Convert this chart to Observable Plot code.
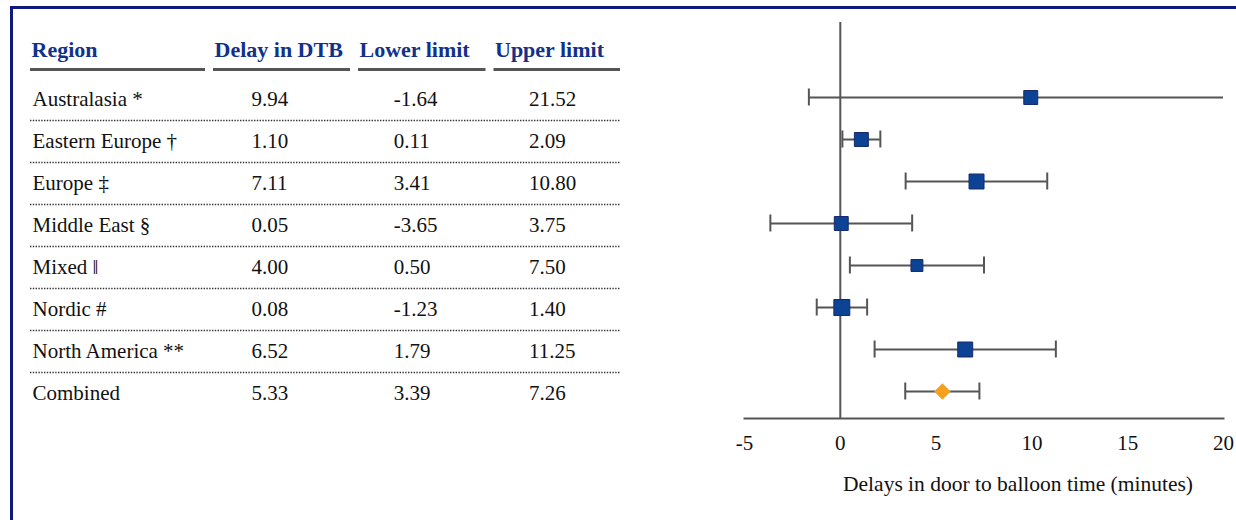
<!DOCTYPE html>
<html>
<head>
<meta charset="utf-8">
<script src="https://cdn.jsdelivr.net/npm/d3@7"></script>
<script src="https://cdn.jsdelivr.net/npm/@observablehq/plot@0.6"></script>
<style>
  html, body { margin: 0; padding: 0; background: #ffffff; }
  #wrap { position: relative; width: 1236px; height: 520px; overflow: hidden; background: #fff;
          font-family: 'Liberation Serif', 'Times New Roman', serif; }
  #border { position: absolute; left: 10px; top: 6px; width: 2000px; height: 2000px;
            border-left: 3px solid #101a7c; border-top: 3px solid #101a7c; }
  #table { position: absolute; left: 0; top: 0; }
  #forest { position: absolute; left: 660px; top: 0; }
  svg, svg text { font-family: 'Liberation Serif', 'Times New Roman', serif !important; }
</style>
</head>
<body>
<div id="wrap">
  <div id="border"></div>
  <div id="table"></div>
  <div id="forest"></div>
</div>
<script>
// ---- data ----
const columns = ["Region", "Delay in DTB", "Lower limit", "Upper limit"];
const regions = ["Australasia *", "Eastern Europe †", "Europe ‡", "Middle East §", "Mixed ‖", "Nordic #", "North America **", "Combined"];
const delay = [9.94, 1.10, 7.11, 0.05, 4.00, 0.08, 6.52, 5.33];
const lower = [-1.64, 0.11, 3.41, -3.65, 0.50, -1.23, 1.79, 3.39];
const upper = [21.52, 2.09, 10.80, 3.75, 7.50, 1.40, 11.25, 7.26];
// relative study weights; Combined has none
const weights = [13, 13, 15, 13, 9.5, 17, 15, null];
const xTicks = [-5, 0, 5, 10, 15, 20];
const xLabel = "Delays in door to balloon time (minutes)";

// ---- derived tables ----
const rows = regions.map((r, i) => ({region: r, delay: delay[i], lower: lower[i], upper: upper[i], weight: weights[i]}));
const studies = rows.filter(d => d.region !== "Combined");
const pooled = rows.filter(d => d.region === "Combined");
const cells = rows.flatMap(d => [
  {region: d.region, col: 1, value: d.delay},
  {region: d.region, col: 2, value: d.lower},
  {region: d.region, col: 3, value: d.upper}
]);

const navy = "#11318a";
const serif = "'Liberation Serif', 'Times New Roman', serif";

// ---- table ----
const table = Plot.plot({
  width: 640, height: 430,
  marginLeft: 26, marginRight: 16, marginTop: 20, marginBottom: 10,
  style: {fontFamily: serif, background: "transparent", color: "#111"},
  x: {type: "linear", domain: [0, 1, 2, 3, 4], range: [26, 209, 354, 489.5, 624], axis: null},
  y: {type: "point", domain: ["header", ...regions], range: [56, 393], padding: 0, axis: null},
  marks: [
    Plot.text(columns, {x: (d, i) => i, y: () => "header", text: d => d, dx: 5, dy: -8,
      textAnchor: "start", fontWeight: "bold", fontSize: 22, fill: navy, fontFamily: serif}),
    Plot.ruleY(columns, {y: () => "header", x1: (d, i) => i, x2: (d, i) => i + 1,
      insetLeft: 4, insetRight: 4, dy: 12, stroke: "#555", strokeWidth: 3}),
    Plot.ruleY(regions.slice(0, -1), {y: d => d, x1: () => 0, x2: () => 4, insetLeft: 4, insetRight: 4,
      dy: 21, stroke: "#333", strokeWidth: 1.4, strokeDasharray: "1.4,1.4"}),
    Plot.text(regions, {x: () => 0, y: d => d, text: d => d, dx: 6, textAnchor: "start", fontSize: 21, fill: "#111", fontFamily: serif}),
    Plot.text(cells, {x: d => d.col + 0.29, y: "region", text: d => d.value.toFixed(2), textAnchor: "start", fontSize: 21, fill: "#111", fontFamily: serif})
  ]
});
document.getElementById("table").appendChild(table);

// ---- forest plot ----
const forest = Plot.plot({
  width: 576, height: 520,
  marginLeft: 84, marginRight: 13, marginTop: 22, marginBottom: 102,
  style: {fontFamily: serif, background: "transparent", color: "#111"},
  x: {domain: [-5, 20]},
  y: {type: "band", domain: regions, range: [74.9, 413.1], padding: 0, axis: null},
  r: {type: "sqrt", domain: [0, 17], range: [0, 9]},
  marks: [
    Plot.ruleX([0], {stroke: "#555", strokeWidth: 2}),
    Plot.frame({anchor: "bottom", stroke: "#555", strokeWidth: 2}),
    Plot.axisX({ticks: xTicks, tickSize: 0, tickPadding: 17, fontSize: 21, fontFamily: serif, tickFormat: d => String(d), label: null, fill: "#111"}),
    Plot.ruleY(rows, {y: "region", x1: "lower", x2: "upper", stroke: "#555", strokeWidth: 2, clip: true}),
    Plot.tickX(rows, {x: "lower", y: "region", insetTop: 12.5, insetBottom: 12.5, stroke: "#555", strokeWidth: 2, clip: true}),
    Plot.tickX(rows, {x: "upper", y: "region", insetTop: 12.5, insetBottom: 12.5, stroke: "#555", strokeWidth: 2, clip: true}),
    Plot.dot(studies, {x: "delay", y: "region", r: "weight", symbol: "square", fill: "#0c4394", stroke: "#17296c", strokeWidth: 1}),
    Plot.dot(pooled, {x: "delay", y: "region", r: 7.5, symbol: "diamond2", fill: "#f5a01e", stroke: "none"}),
    Plot.text([xLabel], {frameAnchor: "bottom", dx: 34, dy: 66, text: d => d, fontSize: 21.5, fill: "#111", lineAnchor: "middle", fontFamily: serif})
  ]
});
document.getElementById("forest").appendChild(forest);
</script>
</body>
</html>
